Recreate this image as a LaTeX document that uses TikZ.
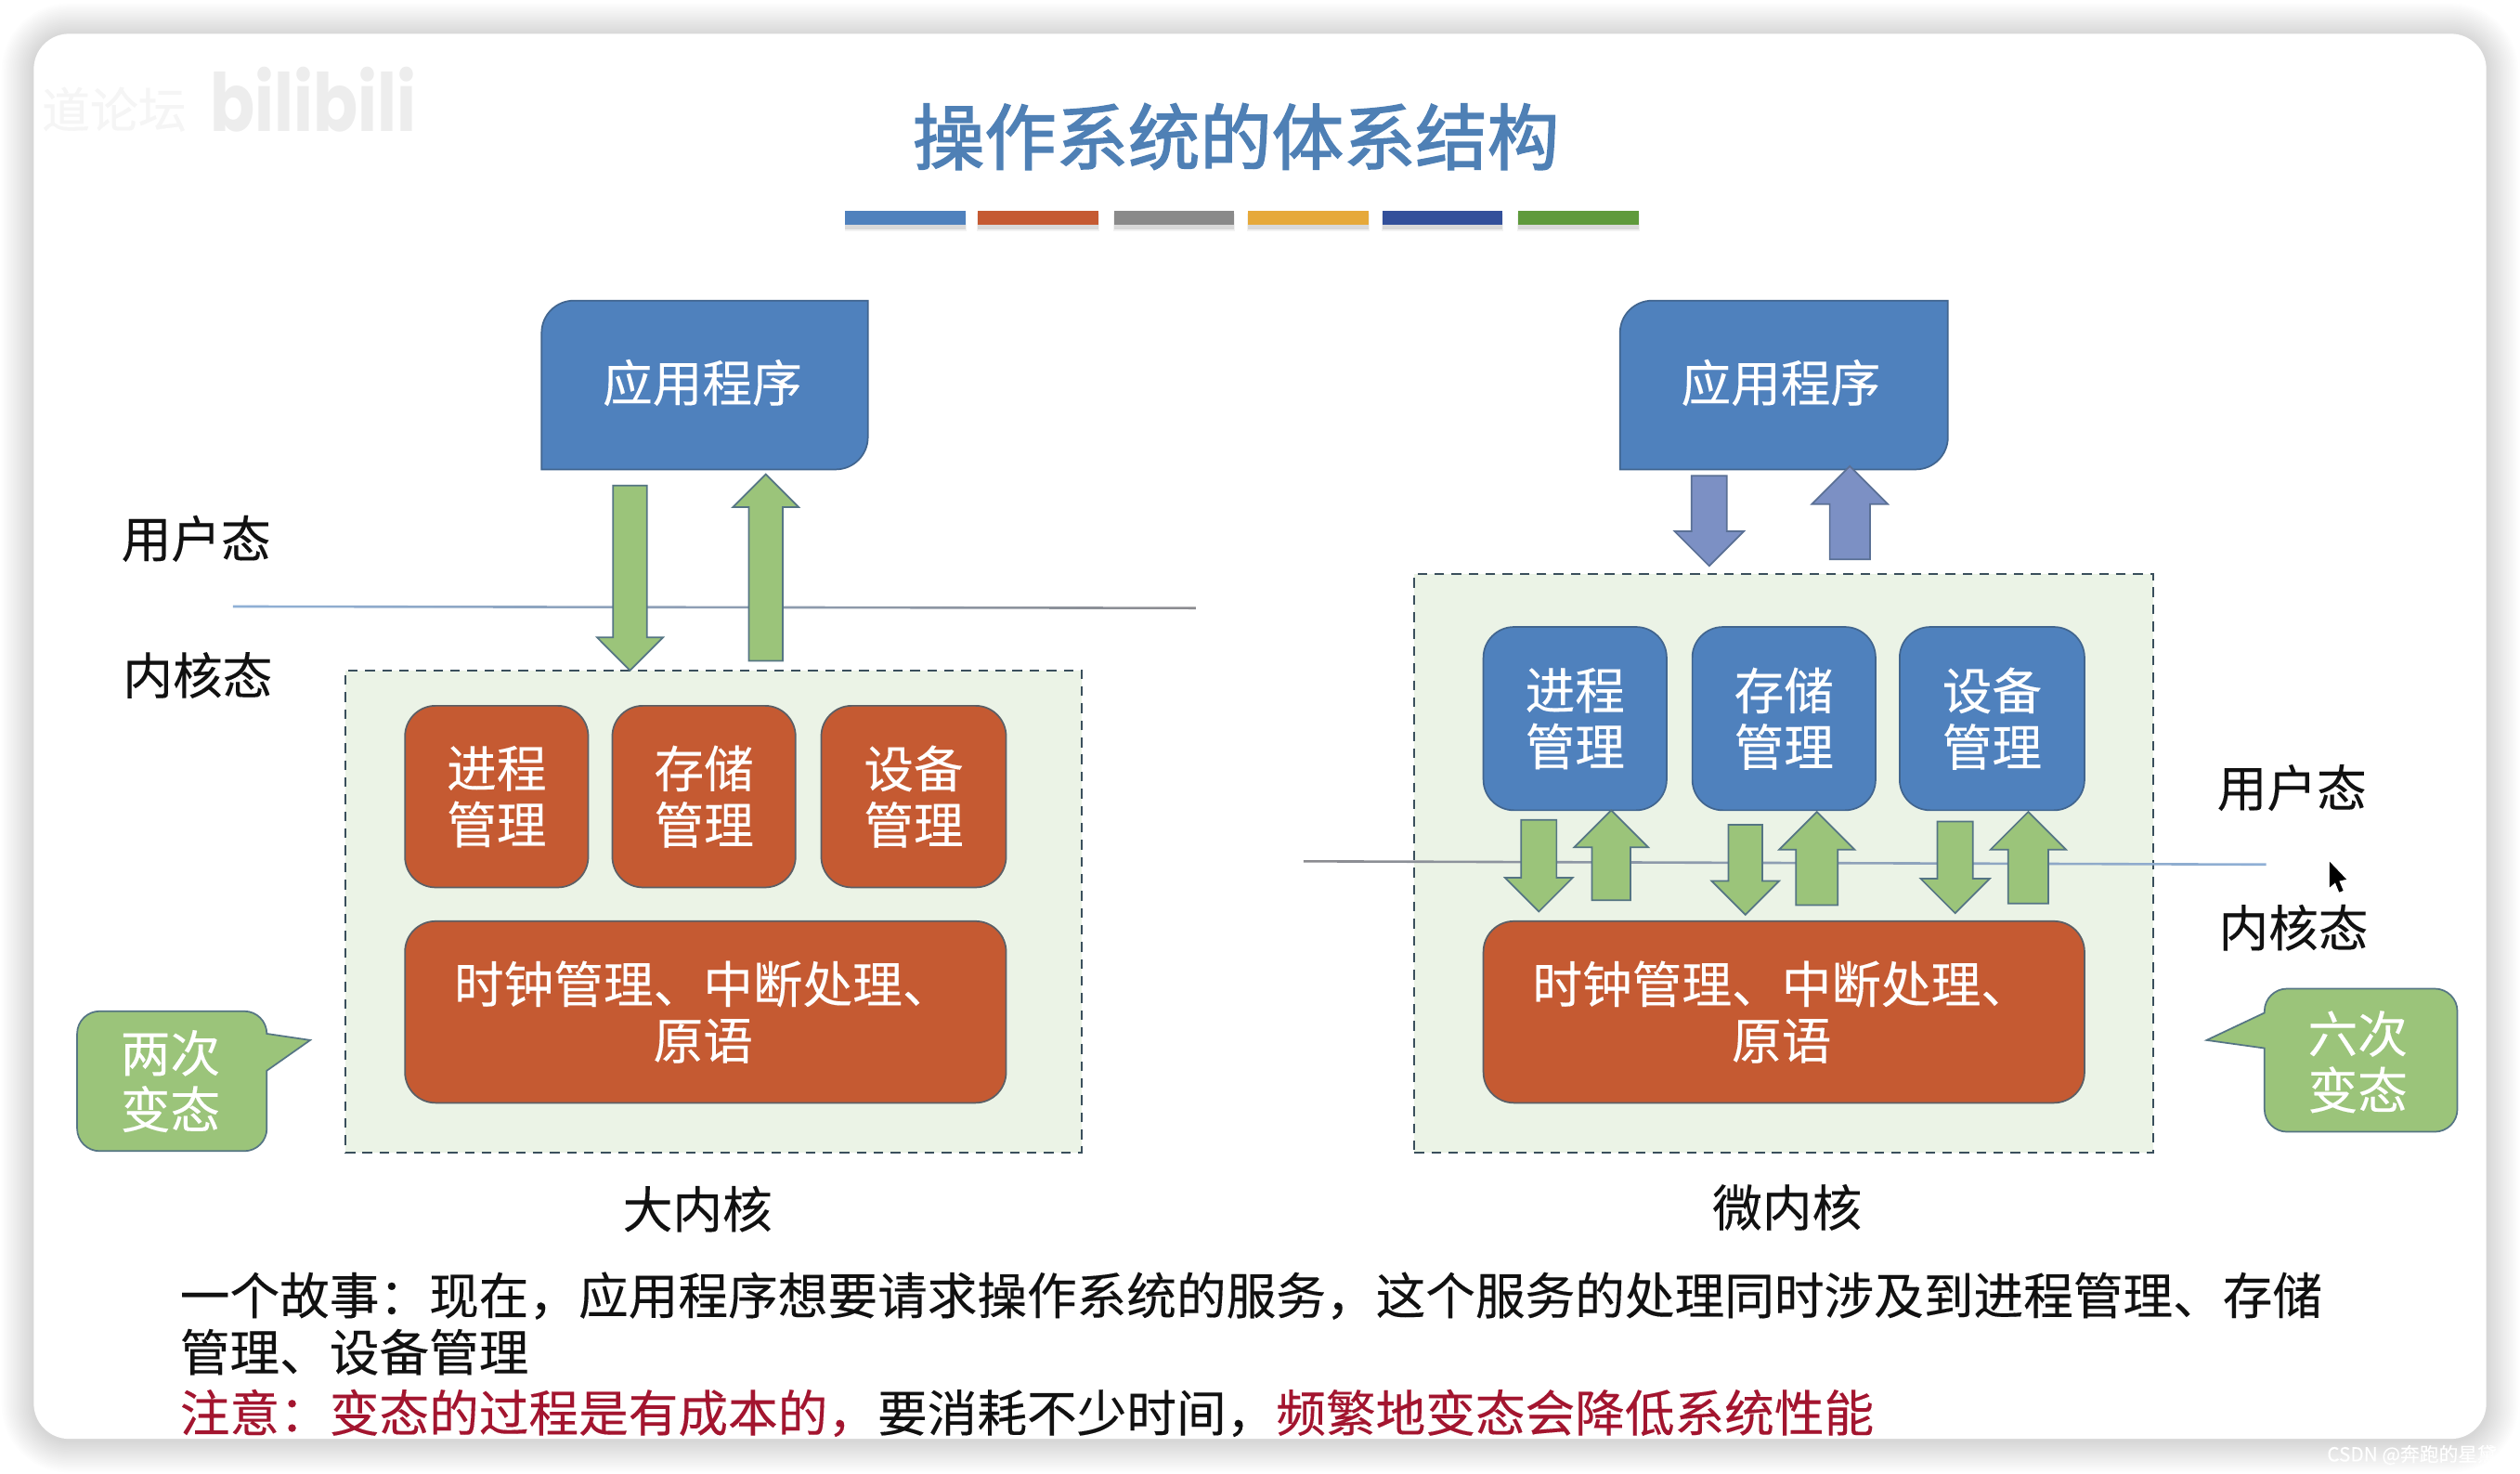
\documentclass[tikz,border=0pt]{standalone}
\usepackage{fontspec}
\setmainfont[FakeBold=0.2]{Noto Sans CJK SC}
\newfontfamily\latinmark{Poppins}
\newfontfamily\titlefont[FakeBold=2.0]{Noto Sans CJK SC}
\usetikzlibrary{shapes.arrows}
\definecolor{slblue}{HTML}{4F81BD}
\definecolor{sledgeblue}{HTML}{41658F}
\definecolor{slred}{HTML}{C55A32}
\definecolor{sledgered}{HTML}{5B5F66}
\definecolor{slgreen}{HTML}{9BC47A}
\definecolor{sledgegreen}{HTML}{557584}
\definecolor{slpurple}{HTML}{7C90C4}
\definecolor{sledgepurple}{HTML}{5A7095}
\definecolor{slpale}{HTML}{EBF3E6}
\definecolor{sldash}{HTML}{3A4F5C}
\definecolor{sltitle}{HTML}{4F80B5}
\definecolor{sldark}{HTML}{A3152F}
\definecolor{sltxt}{HTML}{111111}
\definecolor{slgray}{HTML}{8A8A8A}
\definecolor{slgold}{HTML}{E6A93A}
\definecolor{slnavy}{HTML}{33509B}
\definecolor{slgrass}{HTML}{5F9A3C}
\definecolor{sllineblue}{HTML}{8FB0D6}
\definecolor{sllinegray}{HTML}{8C8C90}
\tikzset{
  every node/.style={inner sep=0pt,outer sep=0pt,align=center,text=sltxt},
  cjk/.style={font=\fontsize{#1}{35}\selectfont},
  lab/.style={cjk=31},
  bar/.style={draw=none,minimum height=9,minimum width=75},
  kbox/.style={draw=sldash,dash pattern=on 6pt off 4.6pt,line width=1.1pt,fill=slpale,anchor=north west},
  bbox/.style={draw=sledgeblue,line width=1pt,fill=slblue,rounded corners=19,text=white,cjk=31},
  rbox/.style={draw=sledgered,line width=1pt,fill=slred,rounded corners=19,text=white,cjk=31},
  appshape/.style={draw=sledgeblue,line width=1pt,fill=slblue},
  apptext/.style={text=white,cjk=31},
  callshape/.style={draw=sledgegreen,line width=1pt,fill=slgreen},
  calltext/.style={text=white,cjk=31},
  garrow/.style={draw=sledgegreen,fill=slgreen,line width=1pt},
  parrow/.style={draw=sledgepurple,fill=slpurple,line width=1pt},
  storytext/.style={anchor=west,font=\fontsize{31}{35}\selectfont},
}
% name, centre x, blunt end y, tip y, head width, shaft width, style
\newcommand{\blockarrow}[7]{%
  \pgfmathsetmacro{\balen}{abs(#4-#3)}%
  \pgfmathsetmacro{\baext}{(#5-#6)/2}%
  \pgfmathsetmacro{\bahalf}{#6/2}%
  \pgfmathsetmacro{\barot}{#4>#3 ? -90 : 90}%
  \node[single arrow,#7,inner xsep=0pt,inner ysep=\bahalf pt,minimum height=\balen pt,
    single arrow head extend=\baext pt,single arrow tip angle=90,anchor=tip,
    rotate=\barot] (#1) at (#2,#4) {};%
}
\begin{document}
\begin{tikzpicture}[x=1pt,y=-1pt]
\useasboundingbox (0,0) rectangle (1568,916.3);
% slide with shadow
\foreach \i in {1,...,20}{
  \fill[black,opacity=0.009,rounded corners=22+\i] (21-\i,21-\i+1) rectangle (1547+\i,895+\i+1);
}
\fill[white,rounded corners=22] (21,21) rectangle (1547,895);
% watermarks
\node[text=black!4,font=\fontsize{30}{30}\selectfont] (wm1) at (71,68) {道论坛};
\node[text=black!7,font=\latinmark\bfseries\fontsize{50}{50}\selectfont,xscale=0.82] (wm2) at (195,62) {bilibili};
\node[text=white,font=\fontsize{12}{12}\selectfont,anchor=west] (wm3) at (1448,905) {CSDN @奔跑的星黛};
% title
\node[text=sltitle,font=\titlefont\fontsize{44.7}{50}\selectfont] (title) at (769,85) {操作系统的体系结构};
\foreach \x/\c/\n in {563.5/slblue/a,646/slred/b,730.5/slgray/c,814/slgold/d,897.5/slnavy/e,982/slgrass/f}{
  \fill[black,opacity=0.05] (\x-38,133) rectangle (\x+38,144);
  \fill[black,opacity=0.10] (\x-37.5,134) rectangle (\x+37.5,142.5);
  \node[bar,fill=\c] (bar\n) at (\x,135.5) {};
}
% left diagram
\node[kbox,minimum width=458,minimum height=300] (lk) at (215,417) {};
\shade[left color=sllineblue,right color=sllinegray] (145,376.5) -- (744,377.5) -- (744,379) -- (145,378) -- cycle;
\path[appshape] (337,292) -- (337,207) arc[start angle=180,end angle=270,radius=20] -- (540,187) -- (540,272) arc[start angle=0,end angle=90,radius=20] -- cycle;
\node[apptext] (lapp) at (437,238) {应用程序};
\node[rbox,minimum width=114,minimum height=113] (lp) at (309,495.5) {进程\\管理};
\node[rbox,minimum width=114,minimum height=113] (lm) at (438,495.5) {存储\\管理};
\node[rbox,minimum width=115,minimum height=113] (ld) at (568.5,495.5) {设备\\管理};
\node[rbox,minimum width=374,minimum height=113] (lc) at (439,629.5) {时钟管理、中断处理、\hspace*{3pt}\\原语\hspace*{3pt}};
\blockarrow{la1}{392}{302}{417}{40}{20}{garrow}
\blockarrow{la2}{476.5}{411}{295}{40}{20}{garrow}
\node[lab] (lu) at (122,335) {用户态};
\node[lab] (lkt) at (123,420) {内核态};
\node[lab] (ln) at (434,752) {大内核};
\path[callshape] (62,629) -- (152,629) arc[start angle=270,end angle=360,radius=14] -- (166,643) -- (193,647) -- (166,666) -- (166,702) arc[start angle=0,end angle=90,radius=14] -- (62,716) arc[start angle=90,end angle=180,radius=14] -- (48,643) arc[start angle=180,end angle=270,radius=14] -- cycle;
\node[calltext] (lcall) at (106,672.5) {两次\\变态};
% right diagram
\path[appshape] (1008,292) -- (1008,207) arc[start angle=180,end angle=270,radius=20] -- (1212,187) -- (1212,272) arc[start angle=0,end angle=90,radius=20] -- cycle;
\node[apptext] (rapp) at (1108,238) {应用程序};
\blockarrow{ra1}{1063.5}{296}{352}{42}{21}{parrow}
\blockarrow{ra2}{1151}{348}{290}{46}{24}{parrow}
\node[kbox,minimum width=460,minimum height=360] (rk) at (880,357) {};
\shade[left color=sllinegray,middle color=sllineblue,right color=sllineblue] (811,535) -- (1410,537) -- (1410,538.5) -- (811,536.5) -- cycle;
\node[bbox,minimum width=114,minimum height=114] (rp) at (980,447) {进程\\管理};
\node[bbox,minimum width=114,minimum height=114] (rm) at (1110,447) {存储\\管理};
\node[bbox,minimum width=115,minimum height=114] (rd) at (1239.5,447) {设备\\管理};
\node[rbox,minimum width=374,minimum height=113] (rc) at (1110,629.5) {时钟管理、中断处理、\hspace*{3pt}\\原语\hspace*{3pt}};
\blockarrow{g1}{957.5}{510}{567}{41}{21}{garrow}
\blockarrow{g2}{1002.5}{560}{504}{45}{23}{garrow}
\blockarrow{g3}{1086}{513}{569}{41}{20}{garrow}
\blockarrow{g4}{1130.5}{563}{505}{46}{25}{garrow}
\blockarrow{g5}{1216.5}{511}{568}{42}{21}{garrow}
\blockarrow{g6}{1262}{562}{505}{46}{24}{garrow}
\node[lab] (ru) at (1426,490) {用户态};
\node[lab] (rkt) at (1427,577) {内核态};
\node[lab] (rn) at (1112,751) {微内核};
\path[callshape] (1423,615) -- (1515,615) arc[start angle=270,end angle=360,radius=14] -- (1529,690) arc[start angle=0,end angle=90,radius=14] -- (1423,704) arc[start angle=90,end angle=180,radius=14] -- (1409,652) -- (1373,647) -- (1409,630) -- (1409,629) arc[start angle=180,end angle=270,radius=14] -- cycle;
\node[calltext] (rcall) at (1467,660.5) {六次\\变态};
% mouse pointer
\fill[black] (1449.5,536) -- (1449.5,552) -- (1453,549) -- (1455.5,555) -- (1458,554) -- (1455.5,548) -- (1460,547) -- cycle;
% story
\node[storytext] (s1) at (112,806) {一个故事：现在，应用程序想要请求操作系统的服务，这个服务的处理同时涉及到进程管理、存储};
\node[storytext] (s2) at (112,841) {管理、设备管理};
\node[storytext] (s3) at (112,879) {\textcolor{sldark}{注意：变态的过程是有成本的，}要消耗不少时间，\textcolor{sldark}{频繁地变态会降低系统性能}};
\end{tikzpicture}
\end{document}
